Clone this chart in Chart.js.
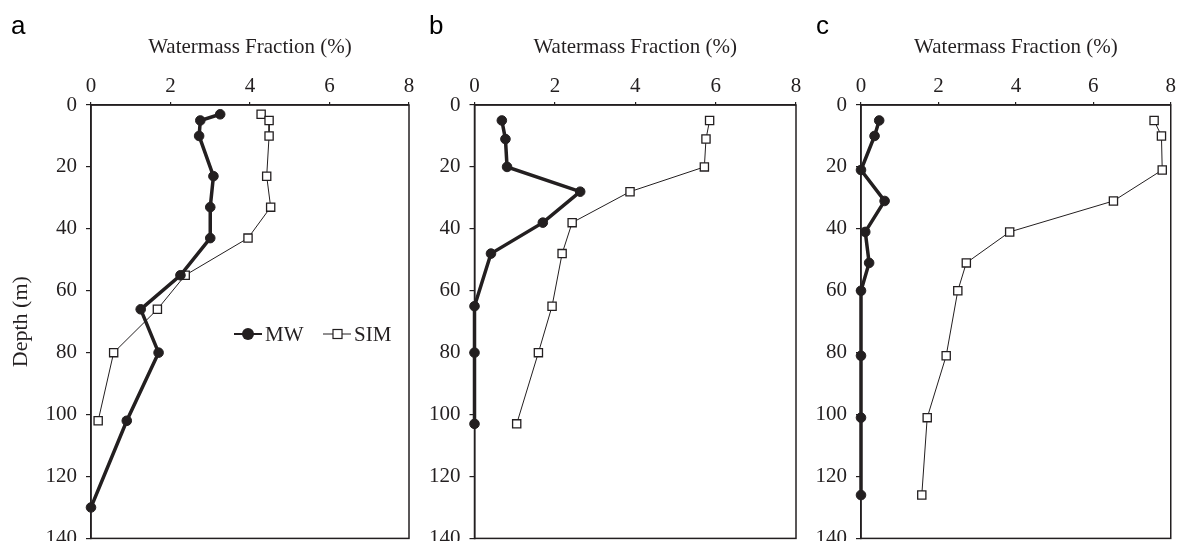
<!DOCTYPE html>
<html>
<head>
<meta charset="utf-8">
<script src="https://cdn.jsdelivr.net/npm/chart.js@4.4.0/dist/chart.umd.min.js"></script>
<style>
  html, body { margin: 0; padding: 0; background: #fff; overflow: hidden; }
  #wrap { position: relative; width: 1179px; height: 541px; overflow: hidden; background: #fff; }
  #wrap canvas { position: absolute; top: 0; }
</style>
</head>
<body>
<div id="wrap">
  <canvas id="chartA" width="420" height="560" style="left:0px"></canvas>
  <canvas id="chartB" width="385" height="560" style="left:420px"></canvas>
  <canvas id="chartC" width="379" height="560" style="left:800px"></canvas>
</div>
<script>
// tick labels
const fractionTicks = [0, 2, 4, 6, 8];
const depthTicks = [0, 20, 40, 60, 80, 100, 120, 140];

// panel a
const depthA = [3, 5, 10, 23, 33, 43, 55, 66, 80, 102, 130];
const mwA = [3.25, 2.75, 2.72, 3.08, 3.0, 3.0, 2.25, 1.25, 1.7, 0.9, 0];
const simA = [4.28, 4.48, 4.48, 4.42, 4.52, 3.95, 2.37, 1.67, 0.57, 0.18];

// panel b
const depthB = [5, 11, 20, 28, 38, 48, 65, 80, 103];
const mwB = [0.68, 0.77, 0.81, 2.63, 1.70, 0.41, 0, 0, 0];
const simB = [5.85, 5.76, 5.72, 3.87, 2.43, 2.18, 1.93, 1.59, 1.05];

// panel c
const depthC = [5, 10, 21, 31, 41, 51, 60, 81, 101, 126];
const mwC = [0.47, 0.35, 0, 0.61, 0.11, 0.21, 0, 0, 0, 0];
const simC = [7.57, 7.76, 7.78, 6.52, 3.84, 2.72, 2.50, 2.20, 1.71, 1.57];

const INK = '#231f20';
const SERIF = '"Liberation Serif", "Times New Roman", serif';
const SANS = '"Liberation Sans", Arial, sans-serif';

function toPoints(values, depths) {
    return values.map((v, i) => ({ x: v, y: depths[i] }));
}

// box round the plot area
const framePlugin = {
    id: 'frame',
    beforeDatasetsDraw(chart) {
        const { ctx, chartArea: a } = chart;
        ctx.save();
        ctx.strokeStyle = INK;
        ctx.lineWidth = 1.5;
        ctx.strokeRect(a.left, a.top, a.right - a.left, a.bottom - a.top);
        ctx.restore();
    }
};

// panel letter a / b / c
const letterPlugin = {
    id: 'panelLetter',
    afterDraw(chart, args, opts) {
        const ctx = chart.ctx;
        ctx.save();
        ctx.fillStyle = '#000';
        ctx.font = '26px ' + SANS;
        ctx.textBaseline = 'alphabetic';
        ctx.fillText(opts.text, opts.x, 34);
        ctx.restore();
    }
};

// legend inside panel a
const inlineLegend = {
    id: 'inlineLegend',
    afterDraw(chart, args, opts) {
        if (!opts.show) return;
        const ctx = chart.ctx;
        const y = 334;
        let x = chart.chartArea.left + 143;
        ctx.save();
        chart.data.datasets.forEach((ds, i) => {
            ctx.strokeStyle = INK;
            ctx.lineWidth = i === 0 ? 2 : 1;
            ctx.beginPath();
            ctx.moveTo(x, y);
            ctx.lineTo(x + 28, y);
            ctx.stroke();
            if (i === 0) {
                ctx.fillStyle = INK;
                ctx.beginPath();
                ctx.arc(x + 14, y, 6, 0, Math.PI * 2);
                ctx.fill();
            } else {
                ctx.fillStyle = '#fff';
                ctx.lineWidth = 1.2;
                ctx.fillRect(x + 10, y - 4.5, 9, 9);
                ctx.strokeRect(x + 10, y - 4.5, 9, 9);
            }
            ctx.fillStyle = INK;
            ctx.font = '21px ' + SERIF;
            ctx.textBaseline = 'middle';
            ctx.fillText(ds.label, x + 31, y + 1);
            x += 89;
        });
        ctx.restore();
    }
};

function makePanel(id, letter, letterX, depths, mw, sim, areaLeft, padRight, showYTitle, showLegend) {
    const data = {
        datasets: [{
            label: 'MW',
            data: toPoints(mw, depths),
            borderColor: INK,
            backgroundColor: INK,
            borderWidth: 3.5,
            pointStyle: 'circle',
            pointRadius: 4.8,
            pointBorderWidth: 1,
            clip: false,
        }, {
            label: 'SIM',
            data: toPoints(sim, depths.slice(0, sim.length)),
            borderColor: INK,
            backgroundColor: '#fff',
            borderWidth: 1,
            pointStyle: 'rect',
            pointRadius: 5.8,
            pointBorderWidth: 1.3,
            clip: false,
        }]
    };

    const config = {
        type: 'line',
        data: data,
        options: {
            responsive: false,
            animation: false,
            devicePixelRatio: 1,
            layout: { padding: { left: 0, right: padRight, top: 0, bottom: 20 } },
            plugins: {
                legend: { display: false },
                tooltip: { enabled: false },
                panelLetter: { text: letter, x: letterX },
                inlineLegend: { show: showLegend },
            },
            scales: {
                x: {
                    type: 'linear',
                    position: 'top',
                    min: 0,
                    max: 8,
                    afterBuildTicks: (s) => { s.ticks = fractionTicks.map(v => ({ value: v })); },
                    afterFit: (s) => { s.height = 105; },
                    ticks: { color: INK, font: { family: SERIF, size: 21 }, padding: 3, maxRotation: 0 },
                    grid: { drawOnChartArea: false, drawTicks: true, tickLength: 3, color: INK, lineWidth: 1.2 },
                    border: { display: true, color: INK, width: 1.5 },
                    title: {
                        display: true,
                        text: 'Watermass Fraction (%)',
                        color: INK,
                        font: { family: SERIF, size: 21 },
                        padding: { top: 35, bottom: 0 },
                    },
                },
                y: {
                    type: 'linear',
                    position: 'left',
                    reverse: true,
                    min: 0,
                    max: 140,
                    afterBuildTicks: (s) => { s.ticks = depthTicks.map(v => ({ value: v })); },
                    afterFit: (s) => { s.width = areaLeft; },
                    ticks: { color: INK, font: { family: SERIF, size: 21 }, padding: 9 },
                    grid: { drawOnChartArea: false, drawTicks: true, tickLength: 5, color: INK, lineWidth: 1.2 },
                    border: { display: true, color: INK, width: 1.5 },
                    title: {
                        display: showYTitle,
                        text: 'Depth (m)',
                        color: INK,
                        font: { family: SERIF, size: 22 },
                        padding: { top: 8, bottom: 0 },
                    },
                },
            },
        },
        plugins: [framePlugin, letterPlugin, inlineLegend],
    };

    new Chart(document.getElementById(id), config);
}

makePanel('chartA', 'a', 11, depthA, mwA, simA, 91, 11, true, true);
makePanel('chartB', 'b', 9, depthB, mwB, simB, 54.5, 9, false, false);
makePanel('chartC', 'c', 16, depthC, mwC, simC, 61, 5, false, false);
</script>
</body>
</html>
